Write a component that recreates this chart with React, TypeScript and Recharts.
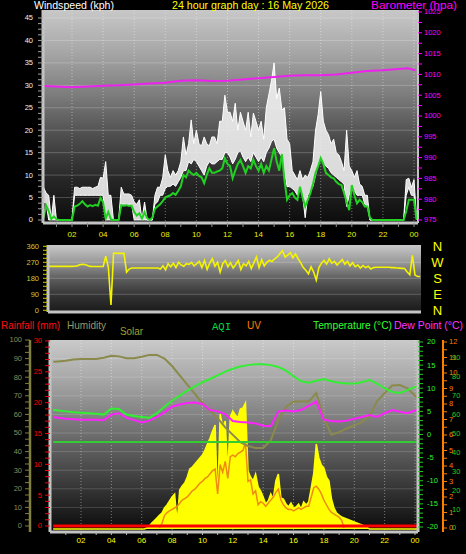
import React from "react";
import { ComposedChart, Line, Area, XAxis, YAxis, CartesianGrid } from "recharts";

const FONT = "'Liberation Sans', Arial, sans-serif";
const STEP = 1 / 6; // 10 minutes, in hours

// ---------- top panel: wind speed / gust / barometer (10 min samples from 00:10)
const windAvg = [
  0.5, 3.3, 2.0, 0.2, 0.8, 0.2,
  0, 0, 0, 0, 0, 0,
  3.0, 3.2, 3.6, 4.2, 3.5, 3.0,
  3.3, 3.1, 3.4, 3.2, 4.9, 4.0,
  0.3, 1.8, 0.2, 0, 0, 0,
  3.3, 3.2, 3.3, 3.1, 3.2, 1.8,
  1.0, 1.5, 0.3, 1.7, 0.4, 0,
  0.5, 2.5, 3.0, 3.5, 4.2, 5.0,
  5.3, 5.5, 6.0, 5.6, 6.5, 7.5,
  10.0, 9.5, 11.0, 10.4, 10.0, 10.5,
  9.8, 9.5, 8.2, 10.0, 11.5, 10.5,
  10.5, 10.8, 11.0, 11.5, 13.7, 12.5,
  12.0, 9.3, 11.0, 12.5, 13.4, 12.0,
  10.5, 12.0, 11.5, 13.4, 12.0, 11.0,
  12.5, 10.5, 12.0, 11.0, 13.5, 16.0,
  13.0, 11.0, 14.7, 9.0, 4.5, 5.5,
  6.0, 5.0, 4.5, 7.4, 5.0, 3.0,
  4.5, 6.0, 8.0, 10.5, 12.0, 13.8,
  12.5, 10.5, 10.0, 9.5, 9.3, 8.5,
  8.0, 7.8, 6.0, 4.0, 2.2, 7.8,
  5.5, 3.7, 4.5, 4.0, 3.0, 3.0,
  0.5, 0, 0, 0, 0, 0,
  0, 0, 0, 0, 0, 0,
  0, 0, 2.0, 4.5, 4.5, 4.5,
  0,
];
const gustHigh = [
  7.3, 6.0, 5.5, 0, 5.5, 0,
  0, 0, 0, 0, 0, 0,
  7.3, 7.3, 7.0, 7.3, 7.3, 7.3,
  7.3, 7.0, 7.3, 7.5, 9.5, 9.3,
  13.0, 5.5, 5.5, 0, 0, 0,
  7.3, 5.8, 5.8, 5.8, 5.5, 4.0,
  3.5, 4.5, 0, 4.0, 0, 0,
  0, 5.5, 7.3, 7.3, 9.4, 14.5,
  11.0, 9.5, 11.0, 10.0, 11.0, 13.0,
  18.5, 14.5, 17.0, 22.3, 17.0, 20.0,
  17.0, 16.5, 18.5, 17.0, 16.5, 18.5,
  18.5, 17.0, 22.0, 22.0, 27.8, 24.0,
  24.0, 22.0, 26.0, 20.0, 24.0, 22.0,
  20.0, 24.0, 18.5, 23.8, 22.0, 20.0,
  22.0, 18.0, 25.0, 28.0, 31.0, 35.0,
  27.0, 29.4, 24.5, 25.0, 18.0, 17.0,
  11.0, 10.0, 9.0, 11.0, 9.0, 10.0,
  9.5, 11.0, 13.0, 20.0, 23.5, 28.6,
  22.0, 20.0, 19.0, 17.0, 18.0, 15.0,
  14.5, 13.0, 11.0, 20.0, 12.0, 11.0,
  9.5, 11.0, 8.0, 7.5, 5.5, 5.5,
  0, 0, 0, 0, 0, 0,
  0, 0, 0, 0, 0, 0,
  0, 0, 9.0, 9.3, 7.3, 9.0,
  0,
];
const gustLow = [
  4.0, 3.8, 0, 0, 0, 0,
  0, 0, 0, 0, 0, 0,
  5.5, 5.5, 5.5, 5.5, 5.5, 5.5,
  5.5, 5.5, 5.5, 5.5, 5.5, 5.5,
  0, 0, 0, 0, 0, 0,
  3.5, 3.5, 3.5, 3.5, 3.5, 0,
  0, 0, 0, 0, 0, 0,
  0, 3.5, 4.0, 5.5, 5.5, 7.0,
  7.5, 7.5, 8.0, 7.5, 8.5, 9.5,
  11.0, 11.0, 13.0, 12.5, 13.5, 13.0,
  12.0, 11.0, 10.0, 12.0, 13.0, 12.5,
  12.5, 13.0, 13.5, 13.5, 15.0, 15.0,
  14.0, 12.5, 13.5, 15.0, 15.5, 14.0,
  13.0, 14.0, 13.0, 15.0, 14.0, 13.0,
  14.0, 13.0, 15.0, 16.0, 17.5, 18.0,
  16.0, 15.0, 14.0, 11.0, 7.4, 7.5,
  7.0, 6.5, 5.5, 7.0, 5.5, 0.5,
  5.5, 6.5, 7.5, 10.0, 12.5, 14.0,
  12.5, 12.0, 11.5, 10.5, 10.0, 9.5,
  9.0, 8.5, 8.0, 3.0, 5.5, 7.0,
  6.5, 5.5, 5.5, 5.5, 3.5, 3.0,
  0, 0, 0, 0, 0, 0,
  0, 0, 0, 0, 0, 0,
  0, 0, 5.5, 7.3, 5.5, 5.5,
  0,
];
const baroHours = [0.2, 1, 2, 3, 4, 5, 6, 7, 8, 9, 10, 11, 12, 13, 14, 15, 16, 17, 18, 19, 20, 21, 22, 23, 23.6, 24.1];
const baro = [1007.2, 1007.1, 1006.9, 1007.1, 1007.3, 1007.4, 1007.6, 1007.8, 1008.0, 1008.5, 1008.6, 1008.4, 1008.5,
  1008.8, 1009.1, 1009.4, 1009.7, 1009.8, 1009.8, 1010.0, 1010.4, 1010.8, 1011.0, 1011.3, 1011.5, 1011.0];

// ---------- middle panel: wind direction (10 min samples from 00:30)
const windDir = [
  247, 247, 247, 247, 247, 247,
  247, 247, 247, 247, 248, 250,
  256, 259, 258, 252, 247, 246,
  246, 246, 246, 246, 305, 240,
  30, 322, 321, 320, 320, 320,
  215, 232, 238, 238, 238, 238,
  238, 238, 238, 238, 238, 238,
  238, 232, 250, 228, 262, 245,
  265, 240, 270, 255, 248, 262,
  258, 270, 250, 262, 275, 240,
  280, 230, 265, 290, 248, 270,
  215, 262, 280, 245, 268, 238,
  258, 280, 230, 262, 250, 275,
  235, 268, 300, 240, 285, 250,
  270, 282, 275, 290, 300, 318,
  335, 300, 310, 325, 295, 318,
  290, 268, 240, 225, 205, 245,
  215, 170, 240, 265, 280, 260,
  290, 265, 275, 255, 270, 285,
  260, 275, 250, 268, 245, 255,
  238, 252, 240, 248, 232, 240,
  242, 242, 242, 242, 242, 242,
  240, 240, 238, 237, 236, 235,
  215, 200, 309, 198, 190, 190,
];

// ---------- bottom panel
const halfHours = [0.17, 0.5, 1, 1.5, 2, 2.5, 3, 3.5, 4, 4.5, 5, 5.5, 6, 6.5, 7, 7.5, 8, 8.5, 9, 9.5, 10, 10.5, 11, 11.5, 12,
  12.5, 13, 13.5, 14, 14.5, 15, 15.5, 16, 16.5, 17, 17.5, 18, 18.5, 19, 19.5, 20, 20.5, 21, 21.5, 22, 22.5, 23, 23.5, 24, 24.15];
const humidity = [88.3, 88.5, 88.8, 89.5, 89.8, 89.8, 89.8, 90.5, 91.5, 91.2, 90.2, 90.2, 91.0, 92.0, 92.0, 90.0, 86.0, 81.0,
  76.0, 71.0, 66.0, 62.0, 58.0, 53.0, 49.0, 45.0, 43.0, 42.0, 42.0, 46.0, 57.0, 64.0, 67.0, 67.0, 67.0, 71.5, 58.0, 49.0,
  50.5, 52.5, 54.0, 56.0, 59.0, 67.0, 71.5, 75.5, 75.8, 74.0, 70.0, 69.0];
const temperature = [5.3, 5.2, 5.0, 4.8, 4.7, 4.6, 4.5, 4.3, 5.6, 5.5, 4.3, 4.0, 3.8, 3.6, 4.6, 6.0, 7.3, 8.4, 9.5, 10.4,
  11.3, 12.0, 12.8, 13.6, 14.2, 14.7, 15.0, 15.2, 15.2, 15.0, 14.6, 13.8, 12.6, 11.5, 11.2, 11.6, 12.0, 11.5, 11.2, 11.0,
  11.0, 11.3, 11.8, 11.0, 10.0, 9.2, 9.0, 9.6, 10.3, 10.4];
const dewPoint = [3.8, 3.6, 3.4, 3.3, 3.2, 3.2, 3.2, 3.1, 4.3, 4.6, 3.6, 3.1, 2.6, 3.0, 3.8, 4.8, 6.0, 6.5, 6.8, 6.9,
  6.6, 5.3, 5.0, 4.4, 2.9, 2.7, 2.6, 2.4, 1.9, 1.8, 5.0, 5.2, 5.0, 5.3, 6.2, 7.1, 3.2, 2.9, 2.8, 3.0,
  3.4, 3.8, 4.2, 3.8, 4.6, 5.3, 4.9, 4.6, 5.2, 5.3];
const solar = [
  0, 0, 0, 0, 0, 0, 0, 0, 0, 0, 0, 0, 0, 0, 0, 0, 0, 0,
  0, 0, 0, 0, 0, 0, 0, 0, 0, 0, 0, 0, 0, 0, 0, 0, 0, 0,
  0, 5, 15, 30, 42, 55,
  68, 80, 105, 120, 140, 160,
  175, 30, 195, 215, 230, 260,
  300, 310, 325, 340, 355, 370,
  395, 425, 455, 490, 520, 120,
  575, 510, 540, 280, 560, 590,
  570, 555, 600, 605, 630, 290,
  260, 240, 275, 210, 190, 160,
  125, 140, 175, 150, 240, 275,
  155, 150, 125, 110, 130, 105,
  110, 125, 100, 135, 120, 135,
  205, 280, 425, 355, 320, 305,
  260, 240, 150, 105, 80, 70,
  60, 55, 50, 45, 40, 35,
  30, 25, 20, 15, 8, 0,
  0, 0, 0, 0, 0, 0, 0, 0, 0, 0, 0, 0, 0, 0, 0, 0, 0, 0,
  0,
];
const uvStart = 7 + 1 / 6;
const uv = [
  0, 0.3, 0.8, 1.0, 1.1, 1.2,
  1.3, 1.4, 1.6, 1.8, 1.9, 2.0,
  2.2, 2.4, 2.5, 2.7, 2.9, 3.0,
  3.2, 3.3, 3.5, 3.7, 3.8, 2.2,
  4.1, 3.6, 4.3, 3.2, 4.6, 4.7,
  4.6, 4.8, 4.9, 5.0, 5.5, 3.0,
  3.1, 2.2, 2.4, 1.5, 1.7, 1.6,
  1.4, 1.6, 1.8, 2.0, 2.3, 2.5,
  1.8, 1.5, 1.3, 1.2, 1.2, 1.1,
  1.2, 1.3, 1.2, 1.3, 1.4, 1.4,
  2.0, 2.6, 2.7, 2.5, 2.2, 1.8,
  1.5, 1.2, 1.0, 0.9, 0.8, 0.7,
  0.5, 0,
];
const flatHours = [0.17, 6, 12, 18, 24.15];
const aqi = [45.5, 45.5, 45.5, 45.5, 45.5];
const rainfall = [0, 0, 0, 0, 0];

// ---------- tick labels
const hourTicks = [1, 2, 3, 4, 5, 6, 7, 8, 9, 10, 11, 12, 13, 14, 15, 16, 17, 18, 19, 20, 21, 22, 23, 24];
const hourLabels = ["02", "04", "06", "08", "10", "12", "14", "16", "18", "20", "22", "00"];
const evenHours = [2, 4, 6, 8, 10, 12, 14, 16, 18, 20, 22, 24];
const windLabels = [0, 5, 10, 15, 20, 25, 30, 35, 40, 45];
const baroLabels = [975, 980, 985, 990, 995, 1000, 1005, 1010, 1015, 1020, 1025];
const dirLabels = [0, 90, 180, 270, 360];
const compass = ["N", "E", "S", "W", "N"];
const humLabels = [0, 10, 20, 30, 40, 50, 60, 70, 80, 90, 100];
const rainLabels = [0, 5, 10, 15, 20, 25, 30];
const tempLabels = [-20, -15, -10, -5, 0, 5, 10, 15, 20];
const uvLabels = [0, 1, 2, 3, 4, 5, 6, 7, 8, 9, 10, 11, 12];
const aqiLabels = [0, 10, 20, 30, 40, 50, 60, 70, 80, 90];

const every = (start: number, values: number[]) => values.map((v, i) => ({ t: start + i * STEP, v }));
const pairs = (times: number[], values: number[]) => times.map((t, i) => ({ t, v: values[i] }));
const withMinor = (labels: number[], n: number) =>
  labels.flatMap((v, i) => (i === labels.length - 1 ? [v] : Array.from({ length: n }, (_, k) => v + ((labels[i + 1] - v) * k) / n)));
const only = (labels: number[]) => (v: number) => (labels.some((l) => Math.abs(l - v) < 1e-6) ? String(v) : "");
const hourText = (v: number) => (v % 2 === 0 ? hourLabels[v / 2 - 1] : "");

const makeTick = (color: string, fmt: (v: number) => string, size = 7.5, dy = "0.32em") => (p: any) => (
  <text x={p.x} y={p.y} dy={dy} textAnchor={p.textAnchor} fill={color} fontSize={size} fontFamily={FONT}>
    {fmt(p.payload.value)}
  </text>
);

const gustRows = gustHigh.map((h, i) => ({ t: (i + 1) * STEP, r: [gustLow[i], h] }));
const avgRows = every(STEP, windAvg);
const baroRows = pairs(baroHours, baro);
const dirRows = every(0.5, windDir);
const humRows = pairs(halfHours, humidity);
const tempRows = pairs(halfHours, temperature);
const dewRows = pairs(halfHours, dewPoint);
const solarRows = every(STEP, solar);
const uvRows = every(uvStart, uv);
const aqiRows = pairs(flatHours, aqi);
const rainRows = pairs(flatHours, rainfall);

const Grad = ({ id, stops }: { id: string; stops: string[] }) => (
  <linearGradient id={id} x1="0" y1="0" x2="0" y2="1">
    {stops.map((c, i) => (
      <stop key={i} offset={i / (stops.length - 1)} stopColor={c} />
    ))}
  </linearGradient>
);

const FRAME = "#c4c4c4";
const noAnim = { isAnimationActive: false, dot: false, activeDot: false } as const;

function TopPanel() {
  return (
    <ComposedChart width={466} height={245} margin={{ top: 10, right: 0, bottom: 0, left: 0 }}>
      <defs>
        <Grad id="bgTop" stops={["#c8c8c8", "#a6a6a6", "#7c7c7c", "#4c4c4c", "#262626", "#0c0c0c"]} />
      </defs>
      <CartesianGrid yAxisId="wind" vertical={false} horizontalValues={windLabels.slice(1)} fill="url(#bgTop)" fillOpacity={1} stroke="rgba(255,255,255,0.22)" />
      <CartesianGrid yAxisId="wind" horizontal={false} verticalValues={evenHours} stroke="rgba(255,255,255,0.4)" strokeDasharray="1 2" />
      <XAxis dataKey="t" type="number" domain={[0.134, 24.257]} allowDataOverflow ticks={hourTicks} interval={0} height={22}
        axisLine={{ stroke: FRAME, strokeWidth: 3 }} tickLine={{ stroke: "#909090" }} tickSize={4} tickMargin={4}
        tick={makeTick("#eeee00", hourText, 8, "0.71em")} />
      <YAxis yAxisId="wind" orientation="left" width={43} domain={[-0.67, 46.78]} allowDataOverflow ticks={withMinor(windLabels, 4)} interval={0}
        axisLine={{ stroke: FRAME, strokeWidth: 3 }} tickLine={{ stroke: "#a0a0a0" }} tickSize={5} tickMargin={5}
        tick={makeTick("#e8f0ff", only(windLabels))} />
      <YAxis yAxisId="baro" orientation="right" width={48} domain={[974.28, 1025.48]} allowDataOverflow ticks={withMinor(baroLabels, 2)} interval={0}
        axisLine={{ stroke: FRAME, strokeWidth: 2 }} tickLine={{ stroke: "#ff00ff" }} tickSize={4} tickMargin={2}
        tick={makeTick("#ff00ff", only(baroLabels))} />
      <Area yAxisId="wind" data={gustRows} dataKey="r" type="linear" fill="#f4f4f4" fillOpacity={0.88} stroke="#ffffff" strokeWidth={1} isAnimationActive={false} />
      <Line yAxisId="wind" data={avgRows} dataKey="v" type="linear" stroke="#22d022" strokeWidth={2} {...noAnim} />
      <Line yAxisId="baro" data={baroRows} dataKey="v" type="linear" stroke="#ee22ee" strokeWidth={2} {...noAnim} />
    </ComposedChart>
  );
}

function DirPanel() {
  return (
    <ComposedChart width={466} height={86} margin={{ top: 8, right: 0, bottom: 8, left: 0 }}>
      <defs>
        <Grad id="bgMid" stops={["#c8c8c8", "#9a9a9a", "#5e5e5e", "#343434", "#1a1a1a"]} />
      </defs>
      <CartesianGrid yAxisId="dir" vertical={false} horizontalValues={[90, 180, 270]} fill="url(#bgMid)" fillOpacity={1} stroke="rgba(255,255,255,0.22)" />
      <CartesianGrid yAxisId="dir" horizontal={false} verticalValues={evenHours} stroke="rgba(255,255,255,0.35)" strokeDasharray="1 2" />
      <XAxis dataKey="t" type="number" domain={[0.46, 24.385]} allowDataOverflow ticks={hourTicks} height={3} tick={false} tickLine={false}
        axisLine={{ stroke: FRAME, strokeWidth: 3 }} />
      <YAxis yAxisId="dir" orientation="left" width={48} domain={[-9.6, 367.3]} allowDataOverflow ticks={withMinor(dirLabels, 4)} interval={0}
        axisLine={{ stroke: FRAME, strokeWidth: 3 }} tickLine={{ stroke: "#cccc00" }} tickSize={5} tickMargin={4}
        tick={makeTick("#cccc33", only(dirLabels))} />
      <YAxis yAxisId="cmp" orientation="right" width={45} domain={[-9.6, 367.3]} allowDataOverflow ticks={dirLabels} interval={0}
        axisLine={false} tickLine={false}
        tick={(p: any) => (
          <text x={437.5} y={p.y} dy="0.36em" textAnchor="middle" fill="#ffff00" fontSize={13} fontFamily={FONT}>
            {compass[dirLabels.indexOf(p.payload.value)]}
          </text>
        )} />
      <Line yAxisId="dir" data={dirRows} dataKey="v" type="linear" stroke="#f4f400" strokeWidth={1.6} {...noAnim} />
    </ComposedChart>
  );
}

function BottomPanel() {
  // axis ids sort so that a_* sits next to the plot on each side
  return (
    <ComposedChart width={466} height={224} margin={{ top: 10, right: 0, bottom: 0, left: 0 }}>
      <defs>
        <Grad id="bgBot" stops={["#cacaca", "#a8a8a8", "#808080", "#585858", "#303030", "#0a0a0a"]} />
      </defs>
      <CartesianGrid yAxisId="b_hum" vertical={false} horizontalValues={humLabels.slice(1, -1)} fill="url(#bgBot)" fillOpacity={1} stroke="rgba(255,255,255,0.16)" />
      <CartesianGrid yAxisId="b_hum" horizontal={false} verticalValues={evenHours} stroke="rgba(255,255,255,0.4)" strokeDasharray="1 2" />
      <XAxis dataKey="t" type="number" domain={[-0.042, 24.198]} allowDataOverflow ticks={hourTicks} interval={0} height={22}
        axisLine={{ stroke: FRAME, strokeWidth: 3 }} tickLine={{ stroke: "#bbbbbb" }} tickSize={3} tickMargin={2}
        tick={makeTick("#ffff00", hourText, 8, "0.71em")} />
      <YAxis yAxisId="a_rain" orientation="left" width={20} domain={[-0.973, 30.16]} allowDataOverflow ticks={withMinor(rainLabels, 5)} interval={0}
        axisLine={{ stroke: FRAME, strokeWidth: 3 }} tickLine={{ stroke: "#ff0000" }} tickSize={5} tickMargin={3}
        tick={makeTick("#ff0000", only(rainLabels))} />
      <YAxis yAxisId="b_hum" orientation="left" width={30} domain={[-3.23, 100]} allowDataOverflow ticks={withMinor(humLabels, 3)} interval={0}
        axisLine={{ stroke: "#808040", strokeWidth: 2.5 }} tickLine={{ stroke: "#808040" }} tickSize={5} tickMargin={3}
        tick={makeTick("#8c8c5a", only(humLabels))} />
      <YAxis yAxisId="a_temp" orientation="right" width={25} domain={[-21.08, 20.43]} allowDataOverflow ticks={withMinor(tempLabels, 5)} interval={0}
        axisLine={{ stroke: FRAME, strokeWidth: 3 }} tickLine={{ stroke: "#22cc22" }} tickSize={5} tickMargin={4}
        tick={makeTick("#33ee33", only(tempLabels))} />
      <YAxis yAxisId="b_uv" orientation="right" width={9} domain={[-0.258, 12.13]} allowDataOverflow ticks={withMinor(uvLabels, 2)} interval={0}
        axisLine={{ stroke: "#ff8000", strokeWidth: 2 }} tickLine={{ stroke: "#ff8000" }} tickSize={4} tickMargin={2}
        tick={makeTick("#ff7a00", only(uvLabels))} />
      <YAxis yAxisId="c_aqi" orientation="right" width={14} domain={[-2.12, 99.5]} allowDataOverflow ticks={aqiLabels} interval={0}
        axisLine={false} tickLine={false} tickSize={0} tickMargin={0}
        tick={makeTick("#22cc22", only(aqiLabels))} />
      <YAxis yAxisId="z_sol" hide domain={[-15, 945]} allowDataOverflow />
      <Area yAxisId="z_sol" data={solarRows} dataKey="v" type="linear" fill="#ffff00" fillOpacity={1} stroke="#ffff00" strokeWidth={1.5} isAnimationActive={false} />
      <Line yAxisId="b_uv" data={uvRows} dataKey="v" type="linear" stroke="#f08a10" strokeWidth={1.5} {...noAnim} />
      <Line yAxisId="b_hum" data={humRows} dataKey="v" type="linear" stroke="#8a8a4c" strokeWidth={2} {...noAnim} />
      <Line yAxisId="a_temp" data={tempRows} dataKey="v" type="linear" stroke="#33ee33" strokeWidth={2} {...noAnim} />
      <Line yAxisId="a_temp" data={dewRows} dataKey="v" type="linear" stroke="#ff22ff" strokeWidth={2} {...noAnim} />
      <Line yAxisId="c_aqi" data={aqiRows} dataKey="v" type="linear" stroke="#33cc33" strokeWidth={2} {...noAnim} />
      <Line yAxisId="a_rain" data={rainRows} dataKey="v" type="linear" stroke="#ff0000" strokeWidth={3} {...noAnim} />
    </ComposedChart>
  );
}

const Label = ({ x, y, w, c, s = 11, f = FONT, children }: any) => (
  <text x={x} y={y} textLength={w} lengthAdjust="spacingAndGlyphs" fill={c} fontSize={s} fontFamily={f}>
    {children}
  </text>
);

export default function App() {
  return (
    <div style={{ position: "fixed", left: 0, top: 0, width: 466, height: 554, background: "#000", overflow: "hidden" }}>
      <div style={{ position: "absolute", left: 0, top: 0 }}>
        <TopPanel />
      </div>
      <div style={{ position: "absolute", left: 0, top: 237 }}>
        <DirPanel />
      </div>
      <div style={{ position: "absolute", left: 0, top: 330 }}>
        <BottomPanel />
      </div>
      <svg width={466} height={554} style={{ position: "absolute", left: 0, top: 0, pointerEvents: "none" }}>
        <Label x={34} y={8.5} w={80} c="#ffffff">Windspeed (kph)</Label>
        <Label x={172} y={8.5} w={157} c="#ffff00">24 hour graph day : 16 May 2026</Label>
        <Label x={371} y={8.5} w={86} c="#ff00ff">Barometer (hpa)</Label>
        <Label x={1} y={329} w={59} c="#ff1010" s={10.5}>Rainfall (mm)</Label>
        <Label x={67} y={329} w={39} c="#999966" s={10.5}>Humidity</Label>
        <Label x={120} y={334.5} w={23} c="#a0a030" s={10.5}>Solar</Label>
        <Label x={212} y={330} w={19} c="#00dd44" s={11} f="'Liberation Mono', monospace">AQI</Label>
        <Label x={247} y={329} w={14} c="#ff8000" s={10.5}>UV</Label>
        <Label x={313} y={329} w={79} c="#33ff33" s={10.5}>Temperature (°C)</Label>
        <Label x={394} y={329} w={69} c="#ff33ff" s={10.5}>Dew Point (°C)</Label>
      </svg>
    </div>
  );
}
